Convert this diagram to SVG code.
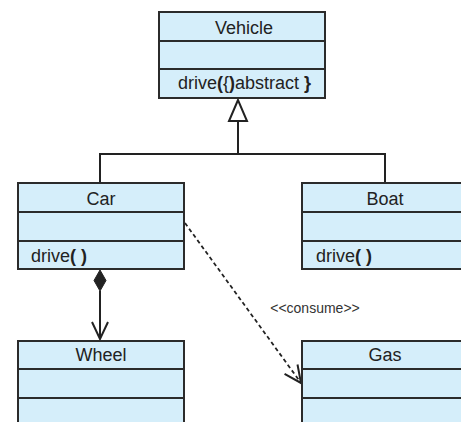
<svg xmlns="http://www.w3.org/2000/svg" width="461" height="422" viewBox="0 0 461 422">
  <style>
    .box { fill: #d5eefa; stroke: #2b2b2b; stroke-width: 2; }
    .div { stroke: #2b2b2b; stroke-width: 2; }
    .title { font-family: "Liberation Sans", Arial, sans-serif; font-size: 18px; fill: #222; text-anchor: middle; }
    .op { font-family: "Liberation Sans", Arial, sans-serif; font-size: 18px; fill: #222; }
    .b { font-weight: bold; }
    .line { fill: none; stroke: #222; stroke-width: 2; }
    .dash { fill: none; stroke: #222; stroke-width: 1.8; stroke-dasharray: 4 3; }
    .label { font-family: "Liberation Sans", Arial, sans-serif; font-size: 14px; fill: #333; text-anchor: middle; }
  </style>
  <defs>
    <marker id="open" viewBox="0 0 20 20" refX="18" refY="10" markerWidth="20" markerHeight="20" markerUnits="userSpaceOnUse" orient="auto">
      <path d="M1,2 L18,10 L1,18" fill="none" stroke="#222" stroke-width="2"/>
    </marker>
  </defs>

  <g id="connectors">
    <!-- generalization: Car and Boat to Vehicle -->
    <polyline class="line" points="100,183 100,154 385,154 385,183"/>
    <line class="line" x1="238" y1="154" x2="238" y2="121"/>
    <polygon points="238,100 229,121 247,121" fill="#fff" stroke="#222" stroke-width="2"/>
    <!-- composition: Car owns Wheel -->
    <polygon points="100,270 106,280.5 100,291 94,280.5" fill="#222" stroke="#222" stroke-width="1"/>
    <line class="line" x1="100" y1="291" x2="100" y2="339" marker-end="url(#open)"/>
    <!-- dependency: Car consumes Gas -->
    <line class="dash" x1="185" y1="223" x2="301" y2="383" marker-end="url(#open)"/>
    <text class="label" x="315" y="313">&lt;&lt;consume&gt;&gt;</text>
  </g>

  <g id="vehicle">
    <rect class="box" x="159" y="12" width="166" height="86"/>
    <line class="div" x1="159" y1="41" x2="325" y2="41"/>
    <line class="div" x1="159" y1="69" x2="325" y2="69"/>
    <text class="title" x="244" y="34">Vehicle</text>
    <text class="op" x="178" y="89">drive<tspan class="b">(</tspan>{<tspan class="b">)</tspan>abstract <tspan class="b">}</tspan></text>
  </g>

  <g id="car">
    <rect class="box" x="18" y="183" width="166" height="86"/>
    <line class="div" x1="18" y1="212" x2="184" y2="212"/>
    <line class="div" x1="18" y1="241" x2="184" y2="241"/>
    <text class="title" x="101" y="205">Car</text>
    <text class="op" x="31" y="262">drive<tspan class="b">( )</tspan></text>
  </g>

  <g id="boat">
    <rect class="box" x="302" y="183" width="166" height="86"/>
    <line class="div" x1="302" y1="212" x2="468" y2="212"/>
    <line class="div" x1="302" y1="241" x2="468" y2="241"/>
    <text class="title" x="385" y="205">Boat</text>
    <text class="op" x="316" y="262">drive<tspan class="b">( )</tspan></text>
  </g>

  <g id="wheel">
    <rect class="box" x="18" y="341" width="166" height="86"/>
    <line class="div" x1="18" y1="369" x2="184" y2="369"/>
    <line class="div" x1="18" y1="398" x2="184" y2="398"/>
    <text class="title" x="101" y="361">Wheel</text>
  </g>

  <g id="gas">
    <rect class="box" x="302" y="341" width="166" height="86"/>
    <line class="div" x1="302" y1="369" x2="468" y2="369"/>
    <line class="div" x1="302" y1="398" x2="468" y2="398"/>
    <text class="title" x="385" y="361">Gas</text>
  </g>
</svg>
